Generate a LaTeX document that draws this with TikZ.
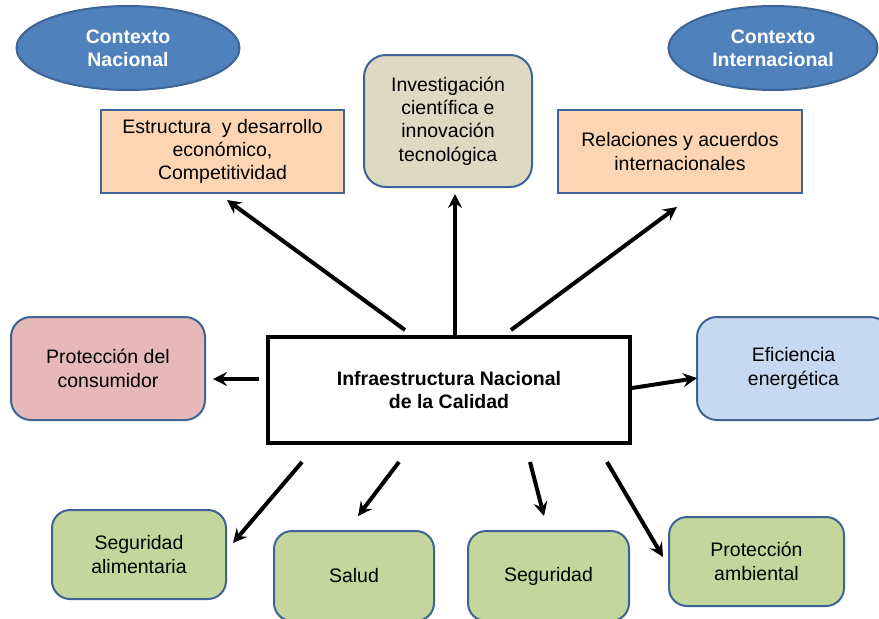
\documentclass[tikz,border=0pt]{standalone}
\usepackage{fontspec}
\setmainfont{Liberation Sans}
\usetikzlibrary{arrows.meta,shapes.geometric}
\definecolor{bdr}{HTML}{3E6496}
\definecolor{ovalfill}{HTML}{4F81BD}
\definecolor{peach}{HTML}{FCD5B5}
\definecolor{khaki}{HTML}{DDD9C3}
\definecolor{rose}{HTML}{E6B9B8}
\definecolor{skyblue}{HTML}{C6D9F1}
\definecolor{olive}{HTML}{C3D69B}
\tikzset{
  txt/.style={font=\fontsize{19.5}{23.3}\selectfont, align=center, text=black},
  oval/.style={ellipse, draw=bdr, line width=2pt, fill=ovalfill, inner sep=0pt,
    font=\bfseries\fontsize{19.5}{23.3}\selectfont, align=center, text=white},
  sqbox/.style={txt, rectangle, draw=bdr, line width=2pt, inner sep=0pt},
  rbox/.style={txt, rectangle, rounded corners=18pt, draw=bdr, line width=2pt, inner sep=0pt},
  mainbox/.style={rectangle, draw=black, line width=3.5pt, fill=white, inner sep=0pt,
    font=\bfseries\fontsize{19.5}{23.3}\selectfont, align=center},
  arr/.style={line width=4pt, -{Stealth[length=14pt,width=14pt,inset=5pt]}},
}
\begin{document}
\begin{tikzpicture}[x=1pt,y=-1pt]
\useasboundingbox (0,0) rectangle (879,619);
\clip (0,0) rectangle (879,619);

% ovals
\node[oval, minimum width=223pt, minimum height=84pt] (cn) at (128,48) {Contexto\\Nacional};
\node[oval, minimum width=209pt, minimum height=84pt] (ci) at (773,48) {Contexto\\Internacional};

% top boxes
\node[sqbox, fill=peach, minimum width=243pt, minimum height=83pt] (est) at (222.5,151.5)
  {Estructura\ \ y desarrollo\\econ\'omico,\\Competitividad};
\node[rbox, fill=khaki, minimum width=168pt, minimum height=132pt, rounded corners=22pt] (inv) at (448,121)
  {Investigaci\'on\\cient\'ifica e\\innovaci\'on\\tecnol\'ogica};
\node[sqbox, fill=peach, minimum width=244pt, minimum height=83pt] (rel) at (680,151.5)
  {Relaciones y acuerdos\\internacionales};

% middle row
\node[rbox, fill=rose, minimum width=194pt, minimum height=103pt, rounded corners=20pt] (pc) at (108,368.5)
  {Protecci\'on del\\consumidor};
\node[mainbox, minimum width=362pt, minimum height=106pt] (inc) at (449,390)
  {Infraestructura Nacional\\de la Calidad};
\node[rbox, fill=skyblue, minimum width=193pt, minimum height=103pt, rounded corners=20pt] (ef) at (793.5,368.5)
  {Eficiencia\\energ\'etica};

% bottom row
\node[rbox, fill=olive, minimum width=174pt, minimum height=89pt] (sa) at (139,554.5)
  {Seguridad\\alimentaria};
\node[rbox, fill=olive, minimum width=160pt, minimum height=90pt] (sal) at (354,576) {Salud};
\node[rbox, fill=olive, minimum width=161pt, minimum height=90pt] (seg) at (548.5,576) {Seguridad};
\node[rbox, fill=olive, minimum width=175pt, minimum height=89pt] (pa) at (756.5,561.5)
  {Protecci\'on\\ambiental};

% arrow ends
\coordinate (s1) at (405,330);  \coordinate (t1) at (227,200);
\coordinate (t2) at (455,194);
\coordinate (s3) at (511,330);  \coordinate (t3) at (677,207);
\coordinate (s4) at (259,379);  \coordinate (t4) at (213,379);
\coordinate (s5) at (632,388);  \coordinate (t5) at (697,378);
\coordinate (s6) at (302,462);  \coordinate (t6) at (233,543);
\coordinate (s7) at (399,462);  \coordinate (t7) at (358,516);
\coordinate (s8) at (530,462);  \coordinate (t8) at (544,516);
\coordinate (s9) at (607,462);  \coordinate (t9) at (663,557);

\draw[arr] (s1) -- (t1);
\draw[arr] ([xshift=6pt]inc.north) -- (t2);
\draw[arr] (s3) -- (t3);
\draw[arr] (s4) -- (t4);
\draw[arr] (s5) -- (t5);
\draw[arr] (s6) -- (t6);
\draw[arr] (s7) -- (t7);
\draw[arr] (s8) -- (t8);
\draw[arr] (s9) -- (t9);
\end{tikzpicture}
\end{document}
